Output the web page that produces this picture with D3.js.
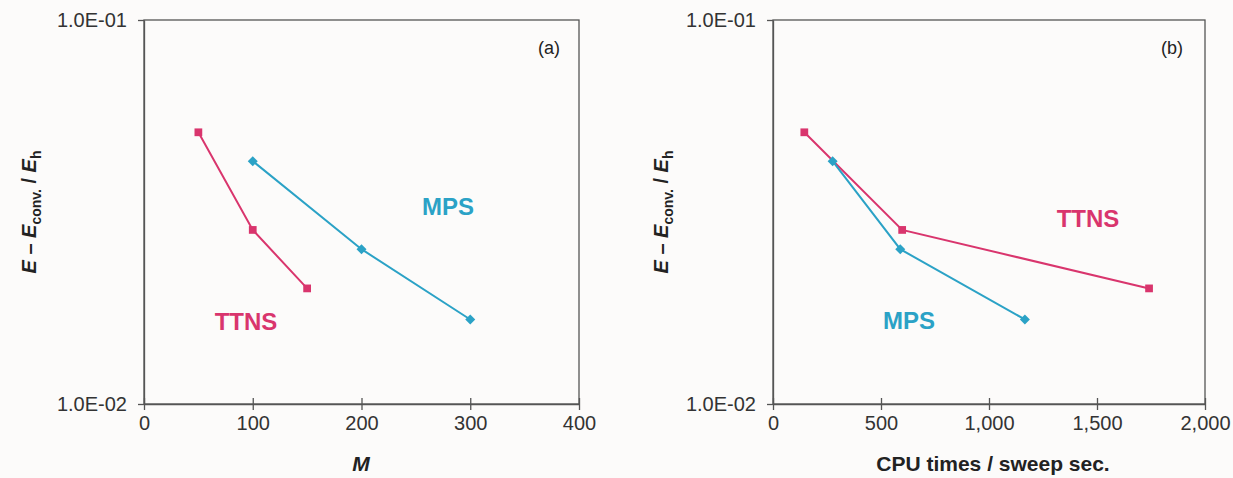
<!DOCTYPE html>
<html>
<head>
<meta charset="utf-8">
<title>TTNS vs MPS convergence</title>
<script src="https://cdn.jsdelivr.net/npm/d3@7"></script>
<style type="text/css">
body { margin: 0; background: #fcfbfa; }
svg { font-family: "Liberation Sans", Arial, sans-serif; }
.tick text { font-size: 20px; fill: #333; }
.domain, .tick line { stroke: #555; stroke-width: 1.3px; }
</style>
</head>
<body>
<svg id="chart" width="1233" height="478"></svg>
<script type="text/javascript">
// panel (a): error vs bond dimension M
var mTtns = [50, 100, 150];
var errTtnsA = [0.0510, 0.0284, 0.0200];
var mMps = [100, 200, 300];
var errMpsA = [0.0429, 0.0253, 0.0166];

// panel (b): error vs CPU time per sweep
var cpuTtns = [145, 598, 1741];
var errTtnsB = [0.0510, 0.0284, 0.0200];
var cpuMps = [276, 589, 1166];
var errMpsB = [0.0429, 0.0253, 0.0166];

var xTicksA = [0, 100, 200, 300, 400];
var xTicksB = [0, 500, 1000, 1500, 2000];
var yTicks = [0.01, 0.1];

var pink = "#d9356d", blue = "#2ba2c6";

var svg = d3.select("#chart");

function panel(opt) {
  var x = d3.scaleLinear().domain(opt.xdom).range([opt.x0, opt.x1]);
  var y = d3.scaleLog().domain([0.01, 0.1]).range([404, 20]);
  var g = svg.append("g");

  // frame
  g.append("rect").attr("x", opt.x0).attr("y", 20)
    .attr("width", opt.x1 - opt.x0).attr("height", 384)
    .attr("fill", "none").attr("stroke", "#555").attr("stroke-width", 1.3);

  var xa = d3.axisBottom(x).tickValues(opt.xticks).tickSizeInner(6).tickSizeOuter(0)
    .tickPadding(6).tickFormat(d3.format(opt.xfmt));
  g.append("g").attr("transform", "translate(0,404)").call(xa)
    .selectAll(".tick line").attr("y1", -6);

  var ya = d3.axisLeft(y).tickValues(yTicks).tickSizeInner(6).tickSizeOuter(0)
    .tickPadding(11).tickFormat(function(d) { return d === 0.1 ? "1.0E-01" : "1.0E-02"; });
  g.append("g").attr("transform", "translate(" + opt.x0 + ",0)").call(ya);

  var line = d3.line().x(function(d) { return x(d[0]); }).y(function(d) { return y(d[1]); });

  opt.series.forEach(function(s) {
    var pts = d3.zip(s.xs, s.ys);
    var sq = s.shape === "square";
    g.append("path").datum(pts).attr("d", line)
      .attr("fill", "none").attr("stroke", s.color).attr("stroke-width", 2);
    g.selectAll(null).data(pts).enter().append("path")
      .attr("transform", function(d) {
        return "translate(" + x(d[0]) + "," + y(d[1]) + ")" + (sq ? "" : " rotate(45)");
      })
      .attr("d", d3.symbol().type(d3.symbolSquare).size(sq ? 60 : 50))
      .attr("fill", s.color);
  });

  opt.labels.forEach(function(l) {
    g.append("text").attr("x", l.x).attr("y", l.y).attr("text-anchor", "middle")
      .attr("font-size", l.size).attr("font-weight", l.bold ? "bold" : "normal")
      .attr("fill", l.color).text(l.text);
  });

  // y title
  var yt = g.append("text").attr("transform", "translate(" + opt.ytx + ",212) rotate(-90)")
    .attr("text-anchor", "middle").attr("font-size", 20).attr("font-weight", "bold").attr("fill", "#222");
  yt.append("tspan").attr("font-style", "italic").text("E");
  yt.append("tspan").text(" \u2013 ");
  yt.append("tspan").attr("font-style", "italic").text("E");
  yt.append("tspan").attr("font-size", 14).attr("dy", 5).text("conv.");
  yt.append("tspan").attr("dy", -5).text(" / ");
  yt.append("tspan").attr("font-style", "italic").text("E");
  yt.append("tspan").attr("font-size", 14).attr("dy", 5).text("h");

  // x title
  g.append("text").attr("x", opt.xtx).attr("y", 471).attr("text-anchor", "middle")
    .attr("font-size", 21).attr("font-weight", "bold").attr("fill", "#222")
    .attr("font-style", opt.xitalic ? "italic" : "normal").text(opt.xtitle);
}

panel({
  x0: 144, x1: 579, xdom: [0, 400], xticks: xTicksA, xfmt: "d", ytx: 36, xtx: 361,
  xtitle: "M", xitalic: true,
  series: [
    { xs: mTtns, ys: errTtnsA, color: pink, shape: "square" },
    { xs: mMps, ys: errMpsA, color: blue, shape: "diamond" }
  ],
  labels: [
    { x: 549, y: 54, text: "(a)", size: 18, color: "#222" },
    { x: 448, y: 215, text: "MPS", size: 24, bold: true, color: blue },
    { x: 246, y: 330, text: "TTNS", size: 24, bold: true, color: pink }
  ]
});

panel({
  x0: 773, x1: 1205, xdom: [0, 2000], xticks: xTicksB, xfmt: ",", ytx: 668, xtx: 993,
  xtitle: "CPU times / sweep sec.", xitalic: false,
  series: [
    { xs: cpuTtns, ys: errTtnsB, color: pink, shape: "square" },
    { xs: cpuMps, ys: errMpsB, color: blue, shape: "diamond" }
  ],
  labels: [
    { x: 1172, y: 54, text: "(b)", size: 18, color: "#222" },
    { x: 1088, y: 227, text: "TTNS", size: 24, bold: true, color: pink },
    { x: 909, y: 329, text: "MPS", size: 24, bold: true, color: blue }
  ]
});
</script>
</body>
</html>
